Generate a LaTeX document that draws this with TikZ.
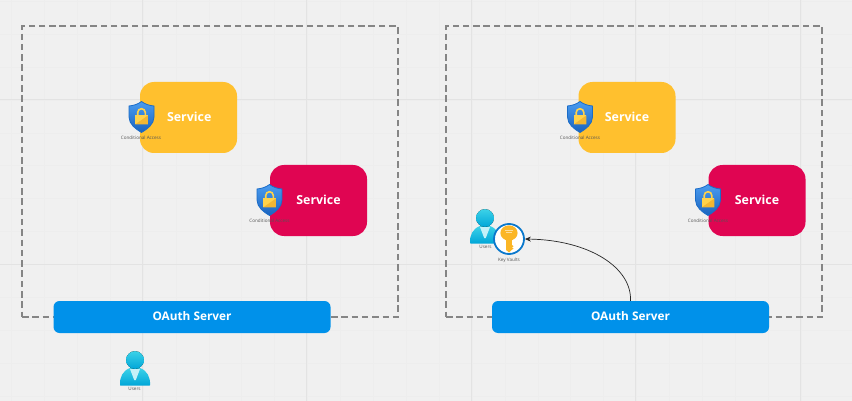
\documentclass[tikz,border=0pt]{standalone}
\usepackage{fontspec}
\setmainfont{Open Sans}
\usetikzlibrary{arrows.meta,shadings}
\definecolor{bgc}{HTML}{F0F0F0}
\definecolor{gridmaj}{HTML}{E3E3E3}
\definecolor{gridmin}{HTML}{EDEDED}
\definecolor{dashc}{HTML}{858585}
\definecolor{yelc}{HTML}{FFC02E}
\definecolor{redc}{HTML}{E00552}
\definecolor{bluec}{HTML}{0091EA}
\definecolor{shieldedge}{HTML}{1A6CC8}
\definecolor{shieldhi}{HTML}{4A9CF0}
\definecolor{shieldlo}{HTML}{1B63BE}
\definecolor{lockc}{HTML}{FFD24A}
\definecolor{lockd}{HTML}{F2B632}
\definecolor{userhi}{HTML}{3CD2E8}
\definecolor{userlo}{HTML}{00A6D8}
\definecolor{keyc}{HTML}{FBB625}
\definecolor{keyring}{HTML}{0A78CC}
\definecolor{labc}{HTML}{555555}
\tikzset{
  svc/.style={rounded corners=14pt,minimum width=97pt,minimum height=71pt,inner sep=0pt,text=white,font=\bfseries\fontsize{12.4}{14}\selectfont},
  oauth/.style={fill=bluec,rounded corners=6pt,minimum width=277pt,minimum height=32pt,inner sep=0pt,text=white,font=\bfseries\fontsize{11.8}{13}\selectfont},
  zone/.style={draw=dashc,line width=1.4pt,dash pattern=on 6.5pt off 3.8pt},
  tiny/.style={text=labc,font=\fontsize{4.6}{5}\selectfont,inner sep=0pt},
  pics/shield/.style={code={
    \path[draw=shieldedge,line width=0.8pt,top color=shieldhi,bottom color=shieldlo]
      (0,-15.5) .. controls (-4,-12.5) and (-8,-11.5) .. (-12.5,-11)
      -- (-12.5,0) .. controls (-12.5,7) and (-6,12) .. (0,15.5)
      .. controls (6,12) and (12.5,7) .. (12.5,0) -- (12.5,-11)
      .. controls (8,-11.5) and (4,-12.5) .. (0,-15.5) -- cycle;
    \draw[lockc,line width=1.6pt] (-3.8,-1) -- (-3.8,-4.5) arc[start angle=180,end angle=360,radius=3.8] -- (3.8,-1);
    \fill[lockc] (-6.4,-1.5) rectangle (6.4,7.5);
    \fill[lockd] (-6.4,7.5) -- (6.4,-1.5) -- (6.4,7.5) -- cycle;
  }},
  pics/person/.style={code={
    \path[top color=userhi,bottom color=userlo]
      (-15,25) .. controls (-15.5,17) and (-12,10.5) .. (-5,8)
      -- (5,8) .. controls (12,10.5) and (15.5,17) .. (15,25)
      .. controls (15,25.3) and (14.8,25.5) .. (14.5,25.5) -- (-14.5,25.5)
      .. controls (-14.8,25.5) and (-15,25.3) .. (-15,25) -- cycle;
    \fill[white!70!userhi] (-5,9) -- (5,9) -- (0.8,20) -- (-0.8,20) -- cycle;
    \fill[top color=userhi,bottom color=userlo] (0,0) circle[radius=8.9];
  }},
  pics/goldkey/.style={code={
    \fill[keyc] (-3.2,-2) -- (3.2,-2) -- (2.9,0) -- (2.9,6) -- (4.6,7.2) -- (2.9,8.4) -- (4.6,9.6) -- (2.9,10.8) -- (0,13.5) -- (-2.9,11) -- (-2.9,0) -- cycle;
    \fill[keyc] (0,-6) ellipse[x radius=8.6,y radius=7.6];
    \draw[white!55!keyc,line width=0.8pt] (-4,-8.5) -- (4,-8.5);
    \draw[white!55!keyc,line width=0.8pt] (-3,-6.2) -- (3,-6.2);
  }}
}
\begin{document}
\begin{tikzpicture}[x=1pt,y=-1pt]
\useasboundingbox (0,0) rectangle (852,401);
\fill[bgc] (0,0) rectangle (852,401);
% grid
\foreach \i in {-4,...,25}{
  \draw[gridmin,line width=0.6pt] ({-21.5+32.9*\i},0) -- ({-21.5+32.9*\i},401);
}
\foreach \i in {-1,...,12}{
  \draw[gridmin,line width=0.6pt] (0,{1.3+32.9*\i}) -- (852,{1.3+32.9*\i});
}
\foreach \x in {142,306.5,471,635.5,800}{
  \draw[gridmaj,line width=1pt] (\x,0) -- (\x,401);
}
\foreach \y in {100,264.5}{
  \draw[gridmaj,line width=1pt] (0,\y) -- (852,\y);
}
% zones
\node[zone,minimum width=376pt,minimum height=291pt,inner sep=0pt] (zoneL) at (210,171.5) {};
\node[zone,minimum width=376pt,minimum height=291pt,inner sep=0pt] (zoneR) at (634,171.5) {};
% left services
\node[svc,fill=yelc] (s1) at (188.5,117.5) {\raisebox{1pt}{\hspace{1.5pt}Service}};
\node[svc,fill=redc] (s2) at (318.5,200.5) {\raisebox{1pt}{Service}};
\pic at (141.5,117) {shield};
\node[tiny] (c1) at (141,137.5) {Conditional Access};
\pic at (269.5,200) {shield};
\node[tiny] (c2) at (269.5,220.5) {Conditional Access};
\node[oauth] (o1) at (192,317) {\raisebox{1pt}{OAuth Server}};
\pic at (135,360) {person};
\node[tiny] (u1) at (134.5,388.5) {Users};
% right services
\node[svc,fill=yelc] (s3) at (627,117.5) {\raisebox{1pt}{Service}};
\node[svc,fill=redc] (s4) at (757,200.5) {\raisebox{1pt}{Service}};
\pic at (580,117) {shield};
\node[tiny] (c3) at (580,137.5) {Conditional Access};
\pic at (708,200) {shield};
\node[tiny] (c4) at (708,220.5) {Conditional Access};
\node[oauth] (o2) at (630.5,317) {\raisebox{1pt}{OAuth Server}};
\pic at (485,218) {person};
\node[tiny] (u2) at (485.5,246.5) {Users};
\node[circle,draw=keyring,fill=white,line width=1.8pt,minimum size=30pt,inner sep=0pt] (kv) at (509,239) {};
\pic at (509,239) {goldkey};
\node[tiny] (k1) at (509,260) {Key Vaults};
\draw[-{Stealth[length=6pt,width=5pt]},line width=0.7pt,black!85] (o2.north) .. controls (632,268) and (590,240) .. (kv.east);
\end{tikzpicture}
\end{document}
